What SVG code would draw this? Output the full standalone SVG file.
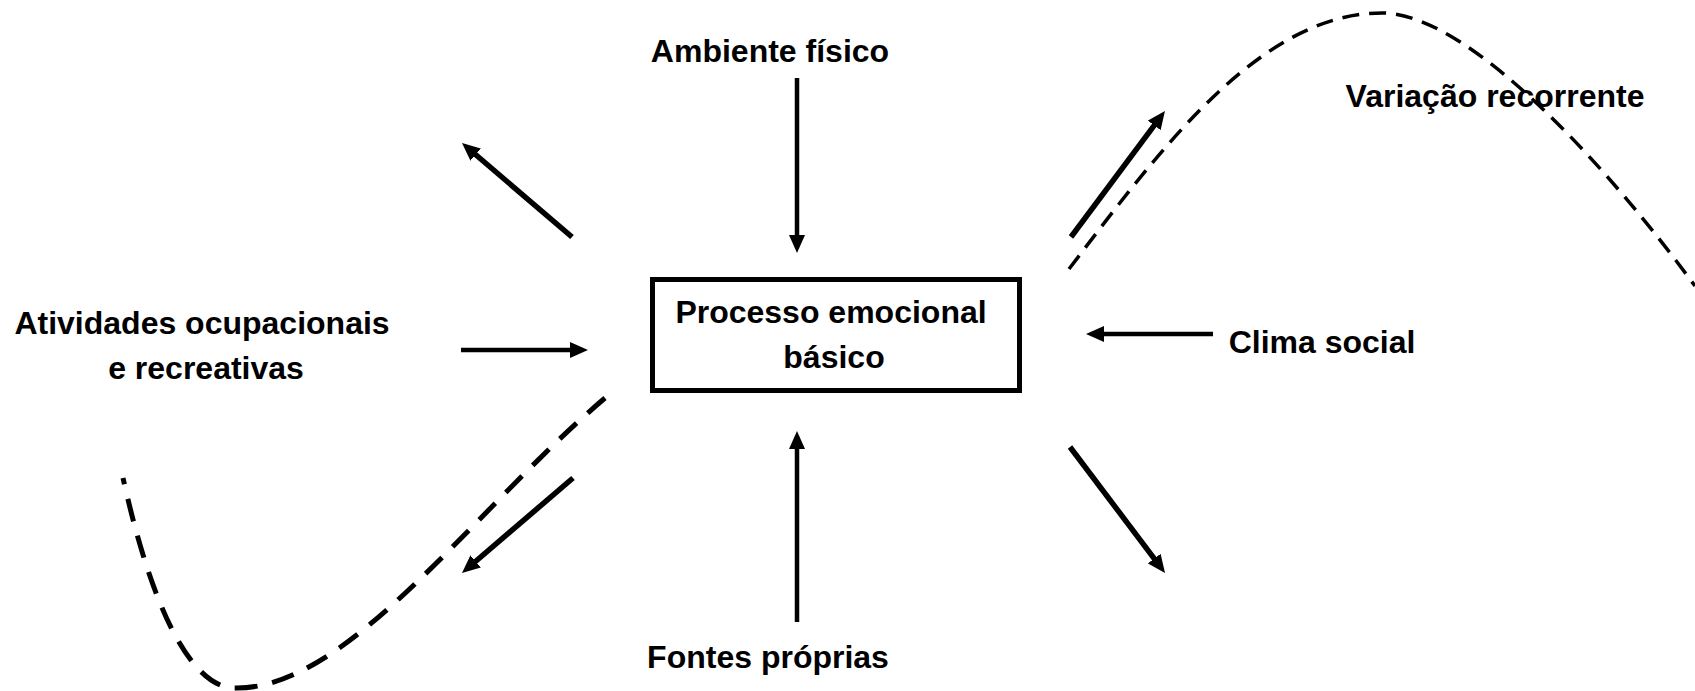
<svg xmlns="http://www.w3.org/2000/svg" width="1695" height="691" viewBox="0 0 1695 691">
<style>
text{font-family:"Liberation Sans",Arial,sans-serif;font-weight:bold;font-size:32px;fill:#000;text-anchor:middle}
.box{fill:#fff;stroke:#000;stroke-width:5}
.arr{stroke:#000;stroke-width:4.5;fill:none;marker-end:url(#ah)}
.diag{stroke:#000;stroke-width:5.5;fill:none;marker-end:url(#ah)}
.dashL{stroke:#000;stroke-width:5;fill:none;stroke-dasharray:23 15}
.dashR{stroke:#000;stroke-width:3.5;fill:none;stroke-dasharray:17 10}
</style>
<defs>
<marker id="ah" markerUnits="userSpaceOnUse" markerWidth="19" markerHeight="16" refX="1" refY="8" orient="auto">
<path d="M0,0 L18,8 L0,16 z" fill="#000"/>
</marker>
</defs>
<rect width="1695" height="691" fill="#fff"/>
<g id="connectors">
<line class="arr" x1="797" y1="78" x2="797" y2="236"/>
<line class="arr" x1="797" y1="622" x2="797" y2="448"/>
<line class="arr" x1="461" y1="350" x2="571" y2="350"/>
<line class="arr" x1="1213" y1="334" x2="1103" y2="334"/>
<line class="diag" x1="572" y1="237" x2="474.9" y2="154"/>
<line class="diag" x1="573" y1="478" x2="474.9" y2="562"/>
<line class="diag" x1="1071" y1="237" x2="1154.8" y2="124.6"/>
<line class="diag" x1="1070" y1="447" x2="1154.8" y2="559.4"/>
<path class="dashL" d="M605,398 C475,508 350,688 237,688 C200,690 158,635 123,478"/>
<path class="dashR" d="M1069,269 C1160,150 1260,13 1382,13 C1470,13 1610,170 1695,286"/>
</g>
<g id="node-center">
<rect class="box" x="652.5" y="279.5" width="367" height="111"/>
<text x="831" y="323">Processo emocional</text>
<text x="834" y="368">básico</text>
</g>
<g id="node-ambiente">
<text x="770" y="62">Ambiente físico</text>
</g>
<g id="node-atividades">
<text x="202" y="334">Atividades ocupacionais</text>
<text x="206" y="379">e recreativas</text>
</g>
<g id="node-fontes">
<text x="768" y="668">Fontes próprias</text>
</g>
<g id="node-clima">
<text x="1322" y="353">Clima social</text>
</g>
<g id="node-variacao">
<text x="1495" y="107">Variação recorrente</text>
</g>
</svg>
